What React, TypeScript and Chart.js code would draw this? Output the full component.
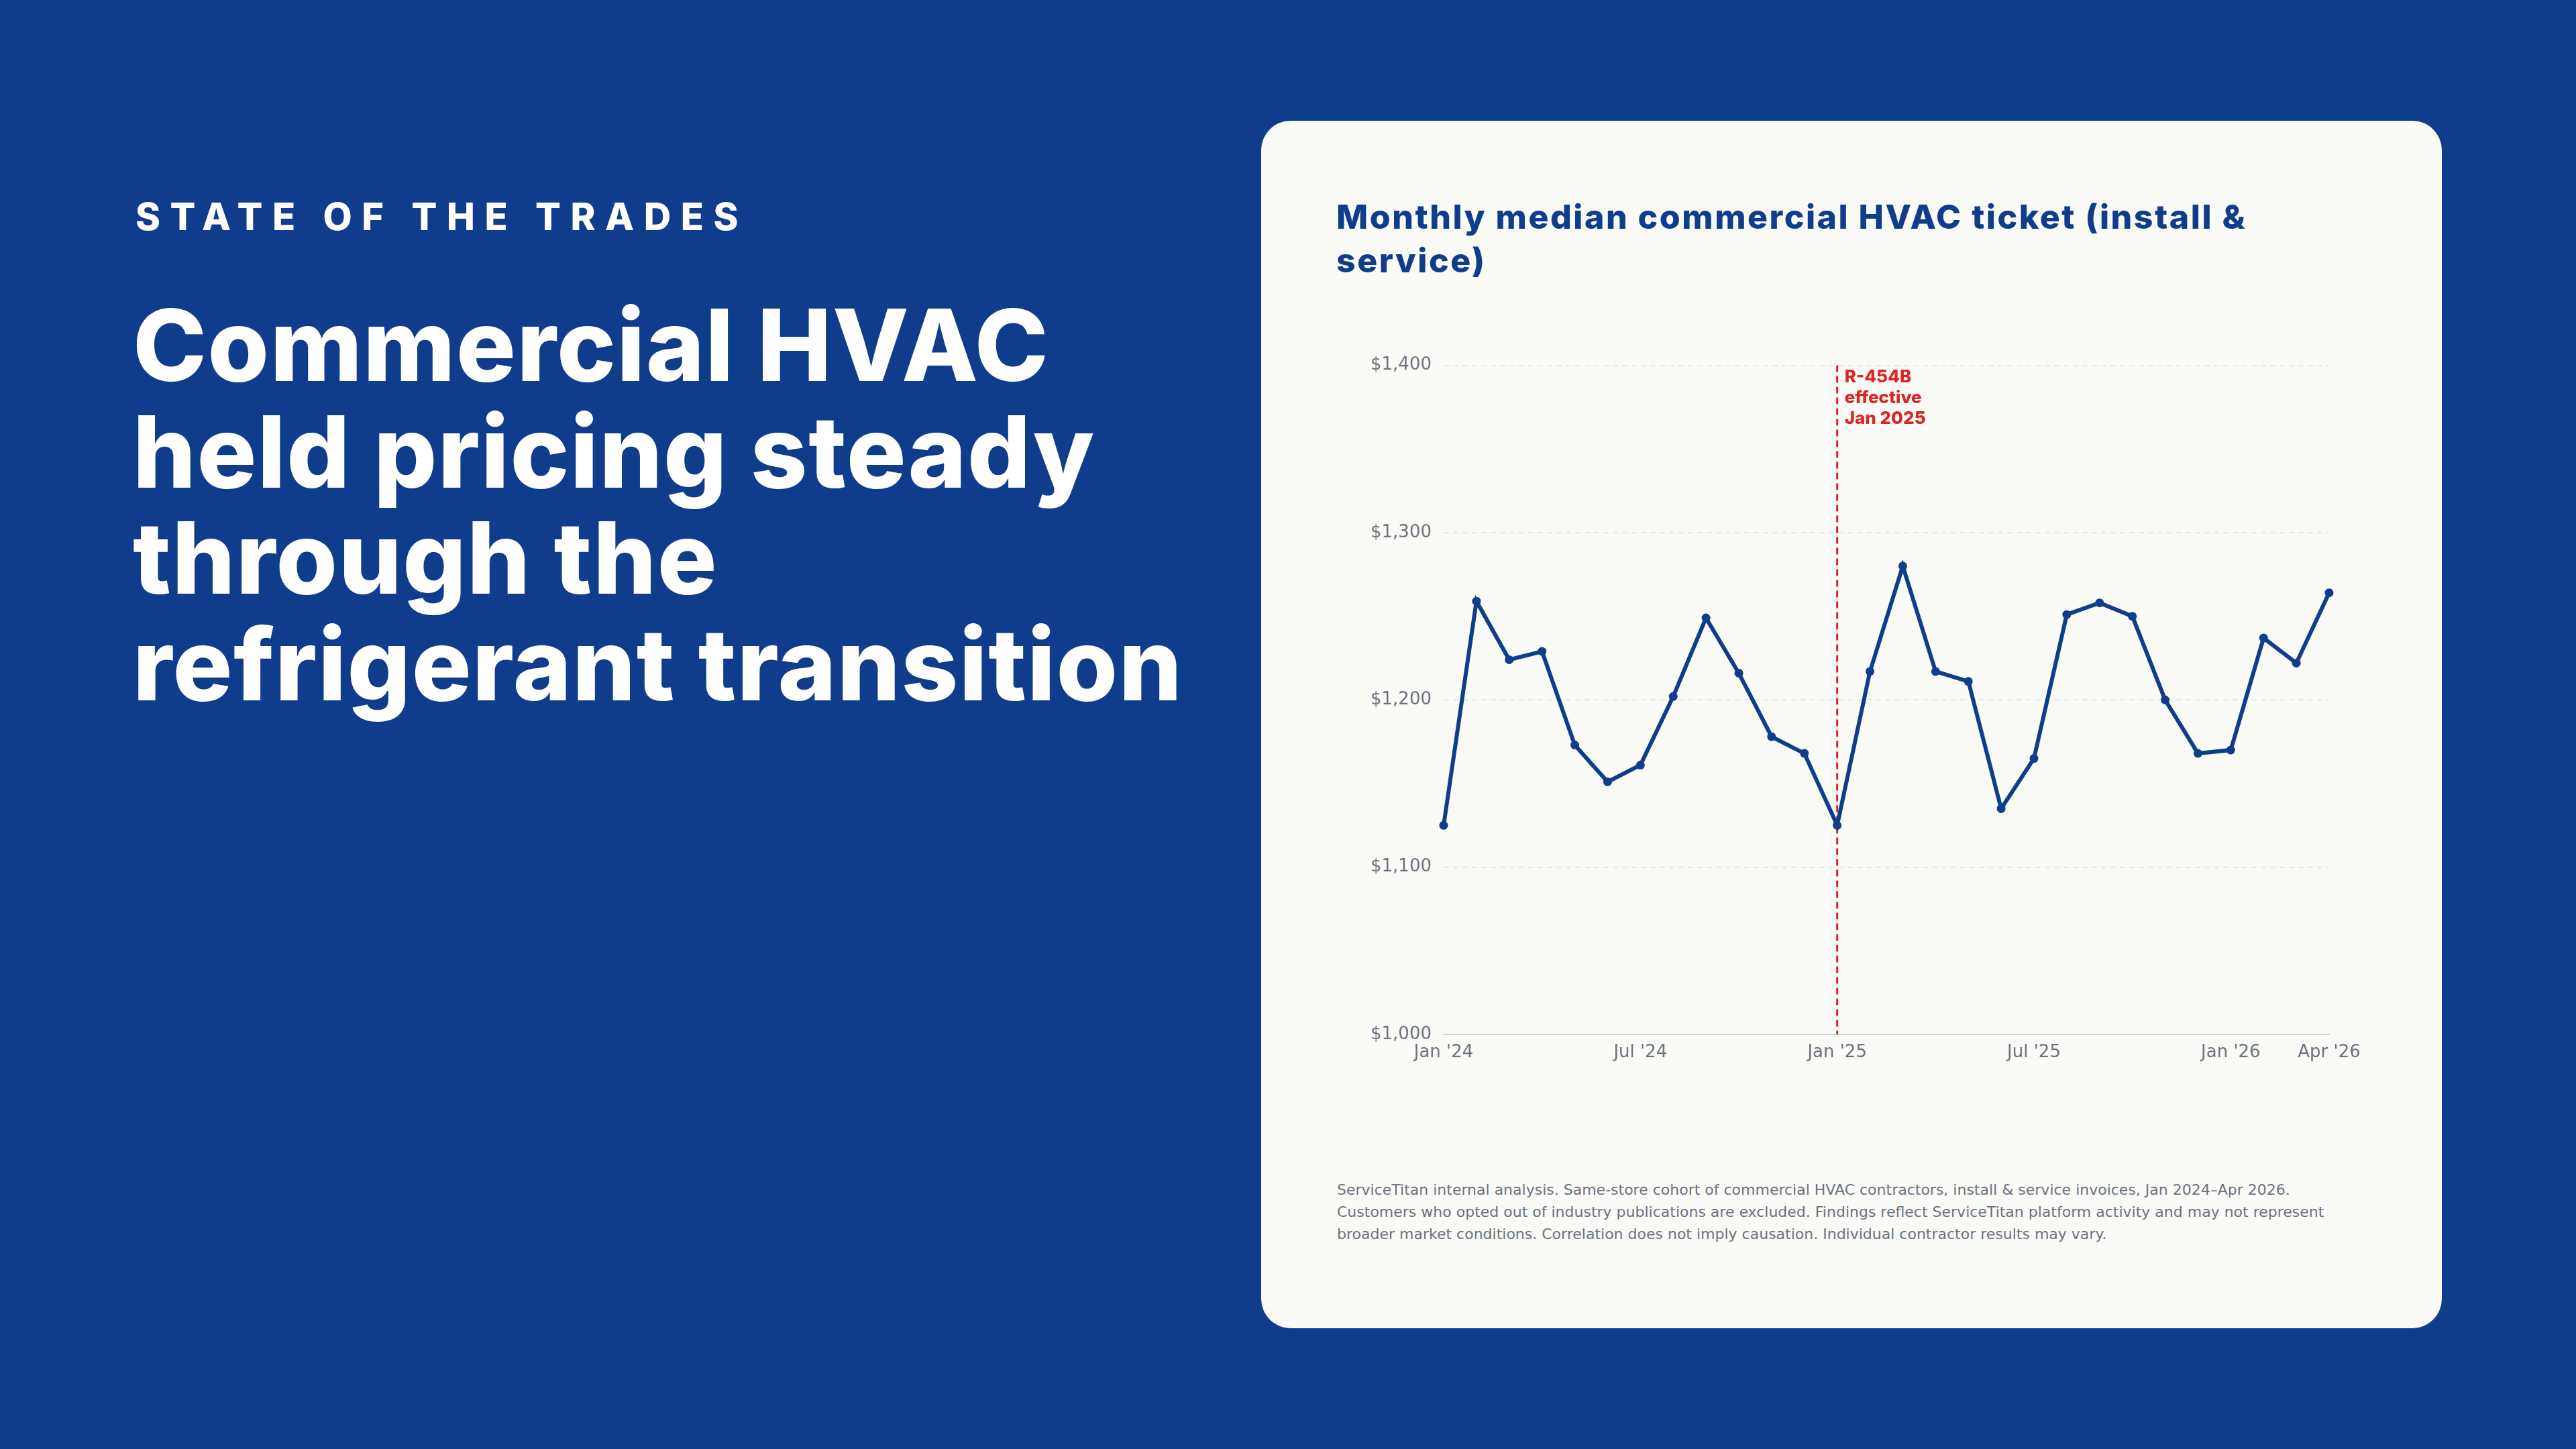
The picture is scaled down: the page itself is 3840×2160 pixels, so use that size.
import { useEffect, useRef } from "react";
import Chart from "chart.js/auto";

const months = [
  "Jan '24", "Feb '24", "Mar '24", "Apr '24", "May '24", "Jun '24",
  "Jul '24", "Aug '24", "Sep '24", "Oct '24", "Nov '24", "Dec '24",
  "Jan '25", "Feb '25", "Mar '25", "Apr '25", "May '25", "Jun '25",
  "Jul '25", "Aug '25", "Sep '25", "Oct '25", "Nov '25", "Dec '25",
  "Jan '26", "Feb '26", "Mar '26", "Apr '26",
];

// median ticket, USD
const ticketValues = [
  1125, 1259, 1224, 1229, 1173, 1151, 1161, 1202, 1249, 1216, 1178, 1168,
  1125, 1217, 1280, 1217, 1211, 1135, 1165, 1251, 1258, 1250, 1200, 1168,
  1170, 1237, 1222, 1264,
];

const shownMonths = ["Jan '24", "Jul '24", "Jan '25", "Jul '25", "Jan '26", "Apr '26"];
const yTicks = [1000, 1100, 1200, 1300, 1400];

const markerMonth = "Jan '25";
const markerLines = ["R-454B", "effective", "Jan 2025"];

const BLUE = "#0f3d8c";
const RED = "#dc2626";
const GRAY = "#6b7280";

const markerPlugin = {
  id: "markerLine",
  beforeDatasetsDraw(chart: any) {
    const { ctx, chartArea, scales } = chart;
    const x = scales.x.getPixelForValue(months.indexOf(markerMonth));
    ctx.save();
    ctx.strokeStyle = RED;
    ctx.lineWidth = 3;
    ctx.setLineDash([10, 6]);
    ctx.beginPath();
    ctx.moveTo(x, chartArea.top);
    ctx.lineTo(x, chartArea.bottom);
    ctx.stroke();
    ctx.restore();
  },
  afterDatasetsDraw(chart: any) {
    const { ctx, chartArea, scales } = chart;
    const x = scales.x.getPixelForValue(months.indexOf(markerMonth));
    ctx.save();
    ctx.fillStyle = RED;
    ctx.font = "800 26px Inter";
    ctx.textBaseline = "alphabetic";
    ctx.textAlign = "left";
    markerLines.forEach((line, i) => {
      ctx.fillText(line, x + 11, chartArea.top + 25 + i * 31);
    });
    ctx.restore();
  },
};

function TicketChart() {
  const canvasRef = useRef<HTMLCanvasElement>(null);

  useEffect(() => {
    if (!canvasRef.current) return;

    const chart = new Chart(canvasRef.current, {
      type: "line",
      data: {
        labels: months,
        datasets: [
          {
            data: ticketValues,
            borderColor: BLUE,
            backgroundColor: BLUE,
            borderWidth: 6,
            tension: 0,
            pointRadius: 6.5,
            pointBackgroundColor: BLUE,
            pointBorderWidth: 0,
            clip: false as any,
          },
        ],
      },
      options: {
        animation: false,
        responsive: true,
        maintainAspectRatio: false,
        layout: { padding: { top: 10, right: 60, bottom: 0, left: 0 } },
        plugins: {
          legend: { display: false },
          tooltip: { enabled: false },
        },
        scales: {
          x: {
            grid: { display: false, drawTicks: false },
            border: { display: true, color: "#d1d5db", width: 2 },
            ticks: {
              autoSkip: false,
              maxRotation: 0,
              padding: 12,
              color: GRAY,
              font: { family: "DejaVu Sans", size: 26 },
              callback: (_v: any, i: number) =>
                shownMonths.includes(months[i]) ? months[i] : "",
            },
            afterFit: (scale: any) => {
              scale.height = 60;
            },
          },
          y: {
            min: yTicks[0],
            max: yTicks[yTicks.length - 1],
            afterBuildTicks: (scale: any) => {
              scale.ticks = yTicks.map((v) => ({ value: v }));
            },
            grid: { color: "#e5e7eb", lineWidth: 2, drawTicks: false },
            border: { display: false, dash: [8, 6] },
            ticks: {
              padding: 18,
              color: GRAY,
              font: { family: "DejaVu Sans", size: 26 },
              callback: (v: any) => "$" + Number(v).toLocaleString("en-US"),
            },
            afterFit: (scale: any) => {
              scale.width = 120;
            },
          },
        },
      },
      plugins: [markerPlugin],
    });

    return () => {
      chart.destroy();
    };
  }, []);

  return <canvas ref={canvasRef}></canvas>;
}

export default function App() {
  useEffect(() => {
    document.body.style.margin = "0";
  }, []);

  return (
    <div
      style={{
        position: "relative",
        width: 3840,
        height: 2160,
        background: BLUE,
        overflow: "hidden",
        fontFamily: "Inter, sans-serif",
      }}
    >
      <div
        style={{
          position: "absolute",
          left: 202,
          top: 295,
          fontSize: 56,
          lineHeight: 1,
          fontWeight: 800,
          letterSpacing: "0.26em",
          color: "#ffffff",
          whiteSpace: "nowrap",
        }}
      >
        STATE OF THE TRADES
      </div>
      <div
        style={{
          position: "absolute",
          left: 198,
          top: 436,
          width: 1800,
          fontSize: 148,
          lineHeight: "158.5px",
          fontWeight: 800,
          letterSpacing: "0.01em",
          color: "#ffffff",
          whiteSpace: "nowrap",
        }}
      >
        Commercial HVAC
        <br />
        held pricing steady
        <br />
        through the
        <br />
        refrigerant transition
      </div>

      <div
        style={{
          position: "absolute",
          left: 1880,
          top: 180,
          width: 1760,
          height: 1800,
          borderRadius: 44,
          background: "#fafaf7",
        }}
      >
        <div
          style={{
            position: "absolute",
            left: 112,
            top: 111,
            width: 1600,
            fontSize: 50,
            lineHeight: "65px",
            fontWeight: 800,
            letterSpacing: "0.05em",
            color: BLUE,
            whiteSpace: "nowrap",
          }}
        >
          Monthly median commercial HVAC ticket (install &amp;
          <br />
          service)
        </div>

        <div
          style={{
            position: "absolute",
            left: 152,
            top: 331,
            width: 1500,
            height: 1091,
          }}
        >
          <TicketChart />
        </div>

        <div
          style={{
            position: "absolute",
            left: 113,
            top: 1577,
            width: 1536,
            fontFamily: "DejaVu Sans",
            fontSize: 22,
            lineHeight: "33px",
            color: GRAY,
          }}
        >
          ServiceTitan internal analysis. Same-store cohort of commercial HVAC
          contractors, install &amp; service invoices, Jan 2024–Apr 2026.
          Customers who opted out of industry publications are excluded.
          Findings reflect ServiceTitan platform activity and may not represent
          broader market conditions. Correlation does not imply causation.
          Individual contractor results may vary.
        </div>
      </div>
    </div>
  );
}
